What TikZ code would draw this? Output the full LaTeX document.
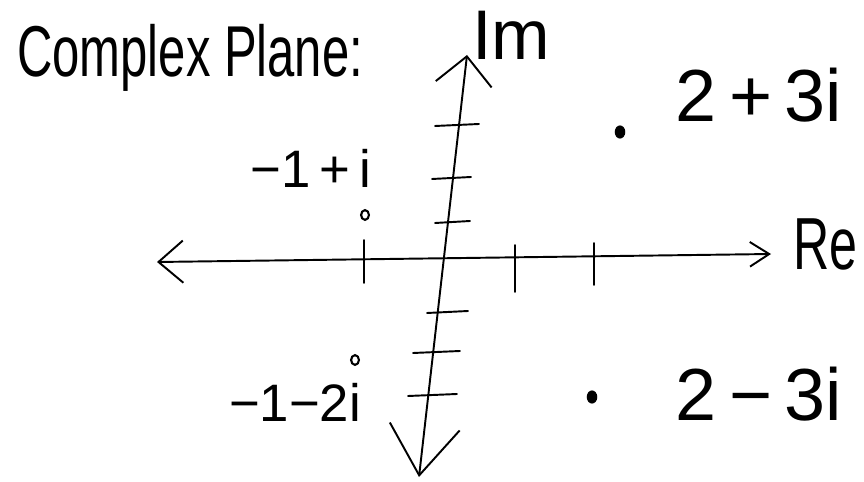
\documentclass[tikz,border=0pt]{standalone}
\usepackage{fontspec}
\setmainfont{Liberation Sans}
\newfontfamily\narrowhand[FakeStretch=0.68]{Liberation Sans}
\usetikzlibrary{arrows.meta}
\usetikzlibrary{shapes.geometric}

\tikzset{
  pen/.style={line width=1.1pt, line cap=round, line join=round},
  bigtxt/.style={inner sep=0pt, anchor=base, font=\fontsize{42}{42}\selectfont},
  smalltxt/.style={inner sep=0pt, anchor=base, font=\fontsize{30}{30}\selectfont},
  solidpt/.style={ellipse, fill=black, inner sep=0pt, minimum width=6pt, minimum height=7.5pt},
  hollowpt/.style={ellipse, draw=black, line width=1.2pt, inner sep=0pt, minimum width=4.5pt, minimum height=5.5pt}
}

\begin{document}
\begin{tikzpicture}[x=0.02cm, y=-0.02cm]
  \useasboundingbox (0,0) rectangle (864,482);
  % title
  \node[inner sep=0pt, anchor=base west, font=\narrowhand\fontsize{41}{41}\selectfont] (title) at (17,77) {Complex Plane:};
  % axes
  \coordinate (imtop) at (467,55);
  \coordinate (imbot) at (419,477);
  \coordinate (releft) at (157,262);
  \coordinate (reright) at (771,254);
  \draw[pen, {Straight Barb[length=28pt,width=40pt]}-{Straight Barb[length=16pt,width=32pt]}] (imbot) -- (imtop);
  \draw[pen, {Straight Barb[length=14pt,width=24pt]}-{Straight Barb[length=11pt,width=14pt]}] (releft) -- (reright);
  \node[inner sep=0pt, anchor=base west, font=\fontsize{40}{40}\selectfont] (imlbl) at (472,60) {Im};
  \node[inner sep=0pt, anchor=base west, font=\narrowhand\fontsize{42}{42}\selectfont] (relbl) at (793,270) {Re};
  % ticks on Re
  \draw[pen] (364,240) -- (364,283);
  \draw[pen] (515,245) -- (515,292);
  \draw[pen] (594,243) -- (594,285);
  % ticks on Im
  \draw[pen] (435,126) -- (479,124);
  \draw[pen] (432,179) -- (471,177);
  \draw[pen] (435,223) -- (470,221);
  \draw[pen] (427,313) -- (468,311);
  \draw[pen] (413,353) -- (460,351);
  \draw[pen] (408,396) -- (457,394);
  % points
  \node[solidpt] (zA) at (620,132) {};
  \node[hollowpt] (zB) at (365,215) {};
  \node[hollowpt] (zC) at (355,360) {};
  \node[solidpt] (zD) at (592,397) {};
  \node[bigtxt] (zAlbl) at (759,122) {2\,+\,3i};
  \node[smalltxt] (zBlbl) at (311,188) {−1\,+\,i};
  \node[smalltxt] (zClbl) at (295,421) {−1−2i};
  \node[bigtxt] (zDlbl) at (759,420) {2\,−\,3i};
\end{tikzpicture}
\end{document}
